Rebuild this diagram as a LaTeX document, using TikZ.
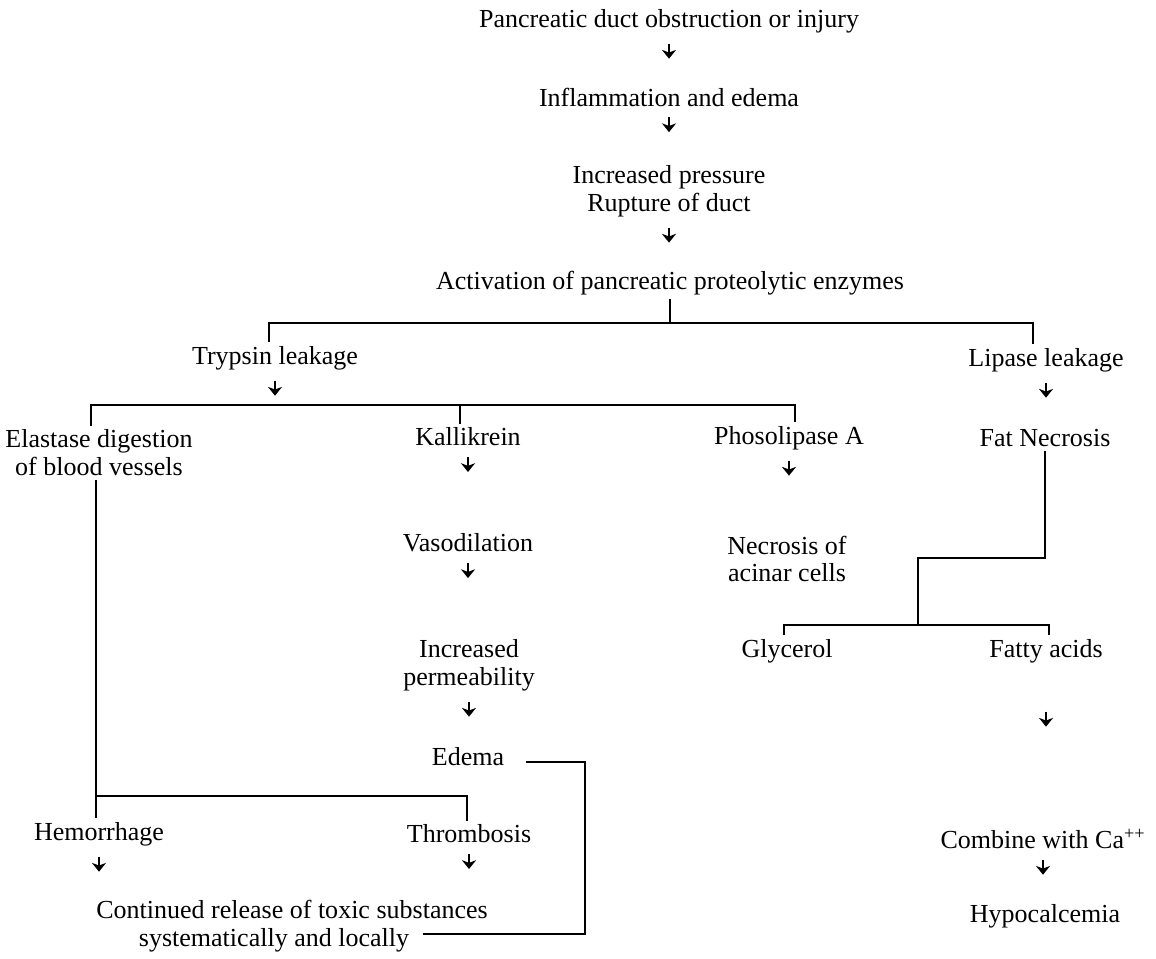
\documentclass[tikz,border=0pt]{standalone}
\usepackage{fontspec}
\setmainfont{Liberation Serif}
\usetikzlibrary{arrows.meta}
\tikzset{
    txt/.style={inner sep=2pt, align=center,
                font=\fontsize{14.8}{15.9}\selectfont},
    link/.style={line width=1.6pt},
    dn/.style={-{Stealth[length=5pt,width=8pt,inset=1.5pt]}, line width=1.6pt,
               to path={([yshift=-#1]\tikztostart.south) -- ++(0,-0.3)}},
    dn/.default=0.14cm,
}

\begin{document}
\begin{tikzpicture}

    \useasboundingbox (0,0) rectangle (23.12,19.16);

    % main chain
    \node[txt] (pan) at (13.38,18.74) {Pancreatic duct obstruction or injury};
    \node[txt] (inf) at (13.38,17.22) {Inflammation and edema};
    \node[txt] (pre) at (13.38,15.34) {Increased pressure\\Rupture of duct};
    \node[txt] (act) at (13.40,13.50) {Activation of pancreatic proteolytic enzymes};
    \draw[dn] (pan) to (inf);
    \draw[dn] (inf) to (pre);
    \draw[dn] (pre) to (act);

    % first split
    \coordinate (fork1) at (13.40,12.70);
    \node[txt] (tryp) at (5.50,12.00) {Trypsin leakage};
    \node[txt] (lip) at (20.92,11.96) {Lipase leakage};
    \draw[link] (act.south) -- (fork1);
    \draw[link] ([xshift=-0.12cm]tryp.north) |- (fork1) -| ([xshift=-0.26cm]lip.north);

    % trypsin branch
    \coordinate (fork2) at (5.46,11.06);
    \node[txt] (ela) at (1.98,10.10) {Elastase digestion\\of blood vessels};
    \node[txt] (kal) at (9.36,10.42) {Kallikrein};
    \node[txt] (pho) at (15.78,10.40) {Phosolipase A};
    \draw[dn] (tryp) to (fork2);
    \draw[link] ([xshift=-0.16cm]ela.north) |- (fork2) -| ([xshift=0.12cm]pho.north);
    \draw[link] ([xshift=-0.16cm]kal.north) |- (fork2);

    \node[txt] (vas) at (9.36,8.30) {Vasodilation};
    \node[txt] (per) at (9.38,5.86) {Increased\\permeability};
    \node[txt] (ede) at (9.36,4.02) {Edema};
    \draw[dn] (kal) to (vas);
    \draw[dn] (vas) to (per);
    \draw[dn] (per) to (ede);

    \node[txt] (nec) at (15.74,7.98) {Necrosis of\\acinar cells};
    \draw[dn] (pho) to (nec);

    \coordinate (fork3) at (1.92,3.24);
    \node[txt] (hem) at (1.98,2.48) {Hemorrhage};
    \node[txt] (thr) at (9.38,2.48) {Thrombosis};
    \node[txt] (rel) at (5.84,0.64) {Continued release of toxic substances\\systematically and locally\hspace*{0.72cm}};
    \coordinate (relin) at (8.46,0.48);
    \draw[link] ([xshift=-0.06cm]ela.south) -- ([xshift=-0.06cm]hem.north);
    \draw[link] (fork3) -| ([xshift=-0.04cm]thr.north);
    \draw[dn] (hem) to (rel);
    \draw[dn] (thr) to (rel);
    \draw[link] ([xshift=0.36cm,yshift=-0.1cm]ede.east) -- ++(1.18,0) |- (relin);

    % lipase branch
    \node[txt] (fat) at (20.90,10.40) {Fat Necrosis};
    \draw[dn] (lip) to (fat);
    \coordinate (bend) at (18.36,8.00);
    \coordinate (fork4) at (18.36,6.66);
    \node[txt] (gly) at (15.74,6.14) {Glycerol};
    \node[txt] (fac) at (20.92,6.14) {Fatty acids};
    \draw[link] (fat.south) |- (bend) -- (fork4);
    \draw[link] ([xshift=-0.06cm]gly.north) |- (fork4) -| ([xshift=0.06cm]fac.north);

    \node[txt] (cal) at (20.86,2.38) {Combine with Ca\textsuperscript{++}};
    \node[txt] (hyp) at (20.90,0.84) {Hypocalcemia};
    \draw[dn=0.9cm] (fac) to (cal);
    \draw[dn] (cal) to (hyp);

\end{tikzpicture}
\end{document}
